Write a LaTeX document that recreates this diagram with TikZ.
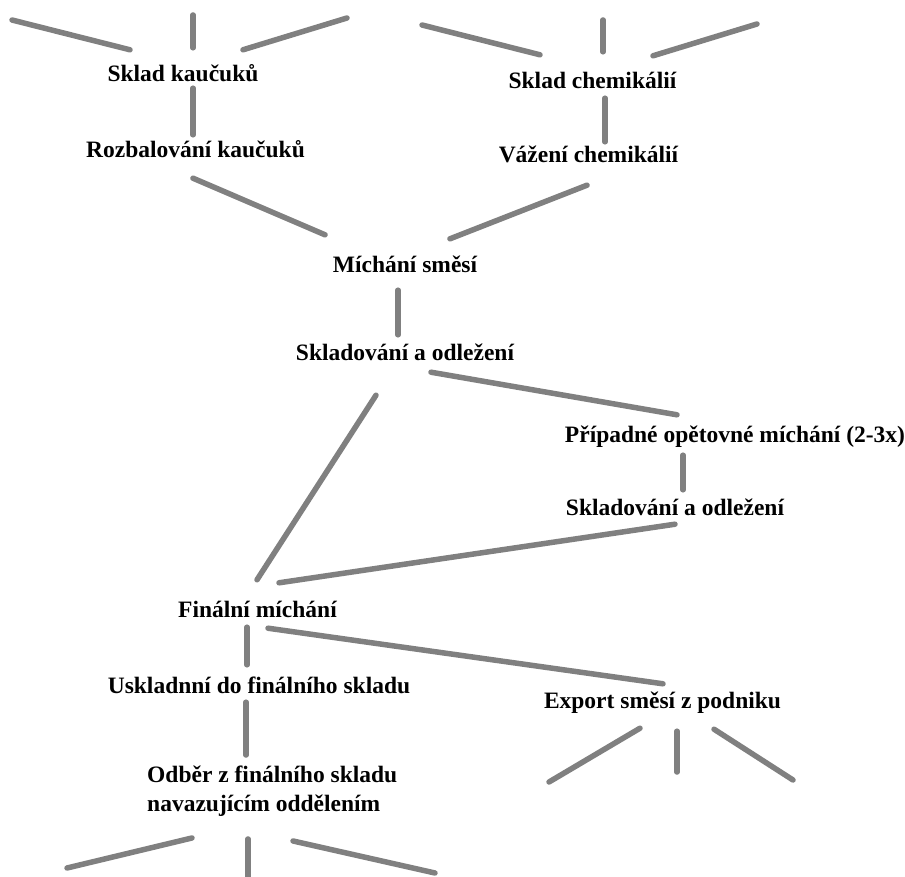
\documentclass[tikz,border=0pt]{standalone}
\usepackage{fontspec}
\setmainfont{Liberation Serif}
\usepackage{xcolor}
\usetikzlibrary{positioning,calc}
\definecolor{linegray}{RGB}{128,128,128}

\begin{document}
\begin{tikzpicture}[
        x=1pt, y=-1pt,
        txt/.style={inner sep=0pt, font=\bfseries\fontsize{23.5}{29}\selectfont},
        stage/.style={txt, text height=17pt, text depth=5pt, anchor=base},
        link/.style={draw=linegray, line width=5.5pt, line cap=round}
    ]
    \path [use as bounding box, fill=white] (0,0) rectangle (905,877);

    \node [stage] (skladk) at (183,82) {Sklad kaučuků};
    \node [stage] (rozbal) at (195.5,158) {Rozbalování kaučuků};
    \node [stage] (skladch) at (592.5,89) {Sklad chemikálií};
    \node [stage] (vazeni) at (588.5,163) {Vážení chemikálií};
    \node [stage] (michani) at (405,273) {Míchání směsí};
    \node [stage] (sklad1) at (405,360) {Skladování a odležení};
    \node [stage] (pripadne) at (735,442) {Případné opětovné míchání (2-3x)};
    \node [stage] (sklad2) at (675,515) {Skladování a odležení};
    \node [stage] (finalni) at (257.5,617) {Finální míchání};
    \node [stage] (uskl) at (259,693) {Uskladnní do finálního skladu};
    \node [stage] (export) at (662.5,708) {Export směsí z podniku};
    \node [txt, align=left, anchor=north west] (odber) at (147,766) {Odběr z finálního skladu\\navazujícím oddělením};

    % free ends
    \coordinate (k1) at (12,20);
    \coordinate (k2) at (193,15);
    \coordinate (k3) at (347,18);
    \coordinate (c1) at (422,25);
    \coordinate (c2) at (603,20);
    \coordinate (c3) at (757,24);
    \coordinate (e1) at (549,782);
    \coordinate (e2) at (677,772);
    \coordinate (e3) at (793,780);
    \coordinate (o1) at (67,868);
    \coordinate (o2) at (248,880);
    \coordinate (o3) at (435,873);

    \path [link] (k1) -- ([shift={(-53,-15)}]skladk.north);
    \path [link] (k2) -- ([shift={(10,-17)}]skladk.north);
    \path [link] (k3) -- ([shift={(60,-15)}]skladk.north);
    \path [link] (c1) -- ([shift={(-52.5,-17)}]skladch.north);
    \path [link] (c2) -- ([shift={(10.5,-20)}]skladch.north);
    \path [link] (c3) -- ([shift={(60.5,-16)}]skladch.north);

    \path [link] ([shift={(10,1)}]skladk.south) -- ([shift={(-2.5,-6)}]rozbal.north);
    \path [link] ([shift={(12.5,4)}]skladch.south) -- ([shift={(16.5,-4)}]vazeni.north);
    \path [link] ([shift={(-2.5,15)}]rozbal.south) -- ([shift={(-80,-21)}]michani.north);
    \path [link] ([shift={(-1.5,17)}]vazeni.south) -- ([shift={(45,-17)}]michani.north);
    \path [link] ([shift={(-7,12)}]michani.south) -- ([shift={(-7,-8)}]sklad1.north);
    \path [link] ([shift={(26,7)}]sklad1.south) -- ([shift={(-58,-10)}]pripadne.north);
    \path [link] ([shift={(-29,30)}]sklad1.south) -- ([shift={(-0.5,-20)}]finalni.north);
    \path [link] ([shift={(-52,8)}]pripadne.south) -- ([shift={(8,-8)}]sklad2.north);
    \path [link] ([shift={(0,4)}]sklad2.south) -- ([shift={(21.5,-17)}]finalni.north);
    \path [link] ([shift={(-10.5,5)}]finalni.south) -- ([shift={(-12,-11)}]uskl.north);
    \path [link] ([shift={(10.5,6)}]finalni.south) -- ([shift={(0.5,-7)}]export.north);
    \path [link] ([shift={(-13,4)}]uskl.south) -- ([shift={(99,-11)}]odber.north west);

    \path [link] ([shift={(-22.5,15)}]export.south) -- (e1);
    \path [link] ([shift={(14.5,18)}]export.south) -- (e2);
    \path [link] ([shift={(51.5,16)}]export.south) -- (e3);
    \path [link] ([shift={(45,21)}]odber.south west) -- (o1);
    \path [link] ([shift={(101,22)}]odber.south west) -- (o2);
    \path [link] ([shift={(146,24)}]odber.south west) -- (o3);

\end{tikzpicture}
\end{document}
